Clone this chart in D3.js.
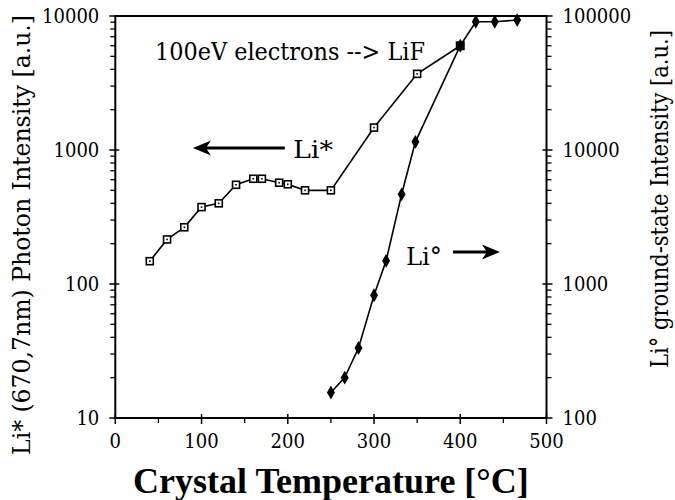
<!DOCTYPE html>
<html><head><meta charset="utf-8">
<script src="https://cdn.jsdelivr.net/npm/d3@7"></script>
<style>
html,body{margin:0;padding:0;background:#fff;}
svg{display:block;}
</style></head>
<body>
<svg id="chart" width="675" height="500"></svg>
<script>
// Li* (670.7 nm) photon intensity, left axis
const liStarTemp = [40, 60, 80, 100, 120, 140, 160, 170, 190, 200, 220, 250, 300, 350, 400];
const liStarVal  = [148, 215, 265, 375, 400, 550, 610, 610, 570, 555, 500, 500, 1470, 3700, 6000];
// Li° ground-state intensity, right axis
const liGroundTemp = [250, 266, 282, 300, 314, 332, 348, 400, 418, 440, 466];
const liGroundVal  = [155, 200, 333, 824, 1490, 4670, 11500, 60000, 90600, 90600, 93300];
const xTicks = [0, 100, 200, 300, 400, 500];
const xMinorTicks = [50, 150, 250, 350, 450];
const leftTicks = [10, 100, 1000, 10000];
const rightTicks = [100, 1000, 10000, 100000];

const svg = d3.select("#chart");
const L = 115.3, R = 546.5, T = 16, B = 418;
const x = d3.scaleLinear().domain([0, 500]).range([L, R]);
const yL = d3.scaleLog().domain([10, 10000]).range([B, T]);
const yR = d3.scaleLog().domain([100, 100000]).range([B, T]);
const SERIF = '"DejaVu Serif Condensed","DejaVu Serif",serif';

function minorLog(domain){
  const out=[]; const lo=Math.log10(domain[0]), hi=Math.log10(domain[1]);
  for(let d=lo; d<hi; d++){ for(let k=2;k<=9;k++) out.push(k*Math.pow(10,d)); }
  return out;
}

const g = svg.append("g").attr("font-family", SERIF);
g.append("rect").attr("x",L).attr("y",T).attr("width",R-L).attr("height",B-T)
 .attr("fill","none").attr("stroke","#000").attr("stroke-width",2);

leftTicks.forEach(v=>{
  g.append("line").attr("x1",L-6).attr("x2",L+4).attr("y1",yL(v)).attr("y2",yL(v)).attr("stroke","#000").attr("stroke-width",1.5);
  g.append("text").attr("x",L-16).attr("y",yL(v)).attr("dy","0.36em").attr("text-anchor","end")
   .attr("font-size",20).text(v);
});
minorLog(yL.domain()).forEach(v=>{
  g.append("line").attr("x1",L-5).attr("x2",L).attr("y1",yL(v)).attr("y2",yL(v)).attr("stroke","#000").attr("stroke-width",1.3);
});
rightTicks.forEach(v=>{
  g.append("line").attr("x1",R-4).attr("x2",R+6).attr("y1",yR(v)).attr("y2",yR(v)).attr("stroke","#000").attr("stroke-width",1.5);
  g.append("text").attr("x",R+16).attr("y",yR(v)).attr("dy","0.36em").attr("text-anchor","start")
   .attr("font-size",20).text(v);
});
minorLog(yR.domain()).forEach(v=>{
  g.append("line").attr("x1",R).attr("x2",R+5).attr("y1",yR(v)).attr("y2",yR(v)).attr("stroke","#000").attr("stroke-width",1.3);
});
xTicks.forEach(v=>{
  g.append("line").attr("x1",x(v)).attr("x2",x(v)).attr("y1",B-4).attr("y2",B+6).attr("stroke","#000").attr("stroke-width",1.5);
  g.append("text").attr("x",x(v)).attr("y",B+30).attr("text-anchor","middle")
   .attr("font-size",20).text(v);
});
xMinorTicks.forEach(v=>{
  g.append("line").attr("x1",x(v)).attr("x2",x(v)).attr("y1",B).attr("y2",B+5).attr("stroke","#000").attr("stroke-width",1.3);
});

g.append("text").attr("x",(L+R)/2).attr("y",493).attr("text-anchor","middle")
 .attr("font-family",'"Liberation Serif",serif').attr("font-size",36).attr("font-weight","bold")
 .text("Crystal Temperature [°C]");
g.append("text").attr("transform","translate(30,235) rotate(-90)").attr("text-anchor","middle")
 .attr("font-size",25).attr("textLength",440).attr("lengthAdjust","spacingAndGlyphs")
 .text("Li* (670,7nm) Photon Intensity [a.u.]");
g.append("text").attr("transform","translate(668,199) rotate(-90)").attr("text-anchor","middle")
 .attr("font-size",24).attr("textLength",338).attr("lengthAdjust","spacingAndGlyphs")
 .text("Li° ground-state Intensity [a.u.]");

const lineL = d3.line().x(d=>x(d[0])).y(d=>yL(d[1]));
const lineR = d3.line().x(d=>x(d[0])).y(d=>yR(d[1]));
const dL = liStarTemp.map((t,i)=>[t, liStarVal[i]]);
const dR = liGroundTemp.map((t,i)=>[t, liGroundVal[i]]);
g.append("path").attr("d",lineL(dL)).attr("fill","none").attr("stroke","#000").attr("stroke-width",1.6);
g.append("path").attr("d",lineR(dR)).attr("fill","none").attr("stroke","#000").attr("stroke-width",1.6);

g.selectAll(".dia").data(dR).enter().append("path")
 .attr("transform",d=>`translate(${x(d[0])},${yR(d[1])})`)
 .attr("d",d3.symbol().type(d3.symbolDiamond).size(55)).attr("fill","#000");
dL.forEach((d,i)=>{
  const cx=x(d[0]), cy=yL(d[1]);
  if(i===dL.length-1){
    g.append("rect").attr("x",cx-4.5).attr("y",cy-4.5).attr("width",9).attr("height",9).attr("fill","#000");
  } else {
    g.append("rect").attr("x",cx-3.5).attr("y",cy-3.5).attr("width",7).attr("height",7)
     .attr("fill","#fff").attr("stroke","#000").attr("stroke-width",1.6);
    g.append("rect").attr("x",cx-0.8).attr("y",cy-0.8).attr("width",1.6).attr("height",1.6).attr("fill","#000");
  }
});

g.append("text").attr("x",x(46)).attr("y",yL(4700)).attr("font-size",24)
 .attr("textLength",270).attr("lengthAdjust","spacingAndGlyphs").text("100eV electrons --> LiF");

function arrow(x1,y,x2){
  const dir = Math.sign(x2-x1);
  const hl=18, hw=7.5, notch=5;
  g.append("line").attr("x1",x1).attr("x2",x2-dir*hl*0.6).attr("y1",y).attr("y2",y).attr("stroke","#000").attr("stroke-width",3);
  g.append("path").attr("d",`M${x2},${y} L${x2-dir*hl},${y-hw} L${x2-dir*(hl-notch)},${y} L${x2-dir*hl},${y+hw} Z`).attr("fill","#000");
}
arrow(x(196.6), yL(1035), x(90));
g.append("text").attr("x",x(206)).attr("y",yL(871)).attr("font-size",25)
 .attr("textLength",40).attr("lengthAdjust","spacingAndGlyphs").text("Li*");
g.append("text").attr("x",x(337)).attr("y",yR(1387)).attr("font-size",25)
 .attr("textLength",36).attr("lengthAdjust","spacingAndGlyphs").text("Li°");
arrow(x(391.5), yR(1734), x(446));
</script>
</body></html>
